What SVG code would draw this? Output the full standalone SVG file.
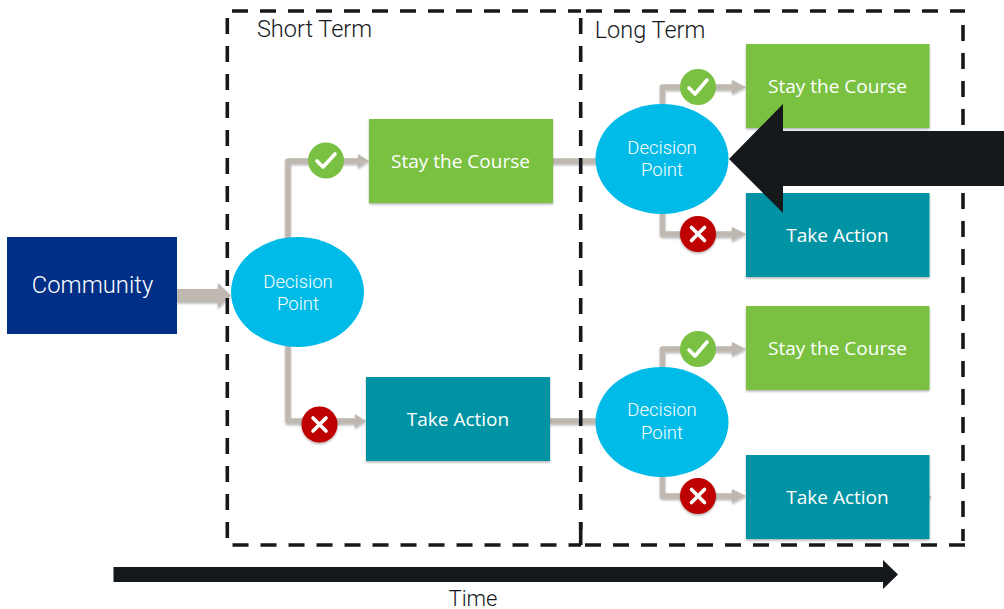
<svg xmlns="http://www.w3.org/2000/svg" width="1004" height="609" viewBox="0 0 1004 609">
<defs>
<style>
text{font-family:"Roboto","Liberation Sans",sans-serif;text-anchor:middle;font-weight:300}
.lbl{fill:#15191c;font-size:23.500px}
.box{font-family:"Open Sans","Liberation Sans",sans-serif;fill:#fff;font-size:19px;font-weight:400}
.dec{fill:#fff;font-size:18.500px}
.conn{fill:none;stroke:#bfb8b0;stroke-width:5.5;stroke-linejoin:round}
.head{fill:#bfb8b0}
.frame{fill:none;stroke:#15191c;stroke-width:3.6;stroke-dasharray:16 12}
.solid{fill:none;stroke:#15191c;stroke-width:3.6}
.green{fill:#7ac143;filter:url(#sh)}
.teal{fill:#0093a3;filter:url(#sh)}
.ell{fill:#00bbe7}
.mark{fill:none;stroke:#fff;stroke-width:3.6;stroke-linecap:round;stroke-linejoin:round}
</style>
<filter id="sh" x="-10%" y="-10%" width="120%" height="125%"><feDropShadow dx="0" dy="1.5" stdDeviation="1.2" flood-color="#000" flood-opacity="0.3"/></filter>
</defs>
<rect width="1004" height="609" fill="#fff"/>
<g id="connectors" filter="url(#sh)">
<path class="conn" d="M288,240V161H358"/><path class="head" d="M358,154L369,161L358,168Z"/>
<path class="conn" d="M288,345V421H355"/><path class="head" d="M355,414L366,421L355,428Z"/>
<path class="conn" d="M553,161H600"/><path class="conn" d="M550,421H600"/>
<path class="conn" d="M662.500,108V87H735"/><path class="head" d="M732,80L746,87L732,94Z"/>
<path class="conn" d="M662.500,210V234H735"/><path class="head" d="M732,227L746,234L732,241Z"/>
<path class="conn" d="M662.500,370V349H735"/><path class="head" d="M732,342L746,349L732,356Z"/>
<path class="conn" d="M662.500,473V496H735"/><path class="head" d="M732,489L746,496L732,503Z"/>
<path class="head" d="M177,289H218V283L231,295.500L218,308V302H177Z"/>
<path class="head" d="M929,495L931.500,497L929,499Z"/>
</g>
<g id="frames">
<path class="frame" d="M232,11H581"/>
<path class="frame" d="M227.300,18V544"/>
<path class="frame" d="M232.500,545H581"/>
<path class="frame" d="M580.700,18V530"/>
<path class="solid" d="M580.700,522V545"/>
<path class="frame" d="M586,11H965"/>
<path class="frame" d="M963,25V541"/>
<path class="frame" d="M585,545H965"/>
</g>
<g id="community"><rect x="7" y="237" width="170" height="97" fill="#002f87"/><text x="92.500" y="293" fill="#fff" font-size="23.800">Community</text></g>
<g id="decision-1"><ellipse class="ell" cx="297.500" cy="292" rx="66.500" ry="55"/><text class="dec" x="298" y="288">Decision</text><text class="dec" x="298" y="310">Point</text></g>
<g id="decision-2"><ellipse class="ell" cx="662" cy="159" rx="66.500" ry="55"/><text class="dec" x="662" y="154">Decision</text><text class="dec" x="662" y="176">Point</text></g>
<g id="decision-3"><ellipse class="ell" cx="662" cy="422" rx="66.500" ry="55"/><text class="dec" x="662" y="416">Decision</text><text class="dec" x="662" y="439">Point</text></g>
<g id="stay-1"><rect class="green" x="369" y="119" width="184" height="84"/><text class="box" x="460.500" y="168">Stay the Course</text></g>
<g id="action-1"><rect class="teal" x="366" y="377" width="184" height="84"/><text class="box" x="458" y="426">Take Action</text></g>
<g id="stay-2"><rect class="green" x="746" y="44" width="183.500" height="84"/><text class="box" x="837.500" y="92.500">Stay the Course</text></g>
<g id="action-2"><rect class="teal" x="746" y="193" width="183.500" height="84"/><text class="box" x="837.500" y="242">Take Action</text></g>
<g id="stay-3"><rect class="green" x="746" y="306" width="183.500" height="84"/><text class="box" x="837.500" y="354.500">Stay the Course</text></g>
<g id="action-3"><rect class="teal" x="746" y="455" width="183.500" height="84"/><text class="box" x="837.500" y="504">Take Action</text></g>
<g id="ok-1"><circle cx="326" cy="160.500" r="18" fill="#7ac143"/><path class="mark" d="M317,161L323,167L335,154"/></g>
<g id="no-1"><circle cx="319.500" cy="424.500" r="18" fill="#bf0000" filter="url(#sh)"/><path class="mark" d="M313,418L326,431M326,418L313,431"/></g>
<g id="ok-2"><circle cx="698" cy="87" r="18" fill="#7ac143"/><path class="mark" d="M689,88L695,94L707,80"/></g>
<g id="no-2"><circle cx="698" cy="234" r="18" fill="#bf0000" filter="url(#sh)"/><path class="mark" d="M691.500,227.500L704.500,240.500M704.500,227.500L691.500,240.500"/></g>
<g id="ok-3"><circle cx="698" cy="349" r="18" fill="#7ac143"/><path class="mark" d="M689,350L695,356L707,342"/></g>
<g id="no-3"><circle cx="698" cy="496" r="18" fill="#bf0000" filter="url(#sh)"/><path class="mark" d="M691.500,489.500L704.500,502.500M704.500,489.500L691.500,502.500"/></g>
<g id="callout-arrow"><path d="M1004,131H783V104L729,159L783,213V186H1004Z" fill="#15191c"/></g>
<g id="time-arrow"><path d="M113.500,567H883V560L898,574.500L883,589V582H113.500Z" fill="#15191c"/></g>
<text class="lbl" x="314.500" y="37">Short Term</text>
<text class="lbl" x="650" y="38">Long Term</text>
<text class="lbl" x="473" y="606" style="font-size:22px">Time</text>
</svg>
